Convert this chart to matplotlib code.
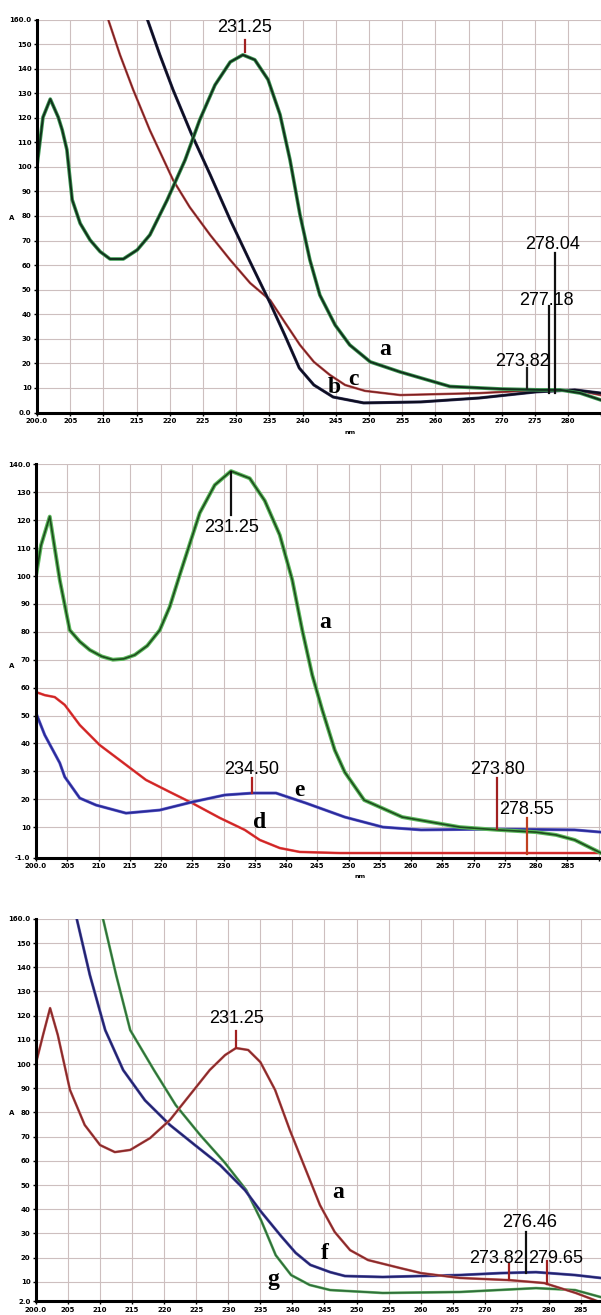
import matplotlib
matplotlib.use('Agg')
import matplotlib.pyplot as plt
import matplotlib.patheffects as pe

# ---------------- data ----------------
# Panel 1 (top): curves a, b, c
p1_a_nm  = [200.0, 200.9, 202.0, 203.2, 203.8, 204.5, 205.3, 206.5, 208.0, 209.5, 211.0, 213.0, 215.1, 217.0,
            219.6, 222.3, 224.5, 226.8, 229.1, 231.0, 232.8, 234.8, 236.6, 238.1, 239.6, 241.1, 242.6, 244.9,
            247.1, 250.2, 254.7, 262.2, 269.7, 275.8, 278.8, 281.8, 284.9]
p1_a_val = [100.4, 120.2, 127.6, 120.2, 115.0, 107.0, 86.6, 77.0, 70.2, 65.5, 62.5, 62.5, 66.2, 72.3,
            86.5, 102.8, 119.1, 133.3, 142.7, 145.6, 143.6, 135.5, 121.3, 102.9, 80.6, 62.1, 47.8, 35.6,
            27.5, 20.6, 16.5, 10.6, 9.6, 9.2, 9.2, 7.9, 5.1]
p1_b_nm  = [215.5, 216.6, 218.5, 220.5, 223.2, 226.1, 229.1, 232.1, 235.1, 237.3, 239.5, 241.7, 244.6,
            249.2, 257.8, 266.6, 275.2, 281.0, 284.9]
p1_b_val = [168.0, 160.2, 145.6, 131.3, 113.8, 96.7, 78.4, 61.3, 44.6, 31.6, 18.1, 11.2, 6.3,
            3.9, 4.3, 5.9, 8.4, 9.2, 7.9]
p1_c_nm  = [209.5, 210.7, 212.5, 214.5, 217.0, 220.5, 223.0, 226.1, 229.1, 232.1, 235.1, 237.3, 239.6,
            241.7, 244.1, 246.4, 249.4, 254.7, 266.7, 275.8, 281.8, 284.9]
p1_c_val = [172.0, 160.2, 145.6, 131.3, 114.9, 94.6, 83.6, 72.2, 62.1, 52.7, 45.8, 36.8, 27.5,
            20.6, 15.3, 11.2, 8.8, 7.1, 7.9, 9.2, 8.8, 7.1]
p1_peaks  = [231.25, 273.82, 277.18, 278.04]
p1_plabel = ['231.25', '273.82', '277.18', '278.04']

# Panel 2 (middle): curves a, d, e
p2_a_nm  = [200.0, 200.8, 202.2, 203.8, 205.4, 207.0, 208.6, 210.5, 212.3, 214.0, 215.8, 217.8, 219.8,
            221.4, 223.0, 224.6, 226.2, 228.6, 231.2, 234.2, 236.6, 239.0, 241.0, 242.6, 244.2, 245.8,
            247.8, 249.4, 252.5, 258.6, 267.8, 273.9, 280.0, 283.2, 286.2, 290.4]
p2_a_val = [100.0, 111.0, 121.3, 98.6, 80.6, 76.5, 73.5, 71.2, 70.0, 70.3, 71.7, 75.0, 80.6,
            89.0, 100.4, 111.5, 122.6, 132.6, 137.6, 135.0, 127.0, 114.7, 98.6, 80.6, 64.5, 52.0,
            37.6, 29.7, 19.7, 13.6, 10.0, 9.0, 8.2, 7.2, 5.4, 0.7]
p2_d_nm  = [200.0, 201.4, 203.0, 204.6, 207.0, 210.2, 213.4, 217.6, 221.4, 225.0, 229.4, 233.4, 235.8,
            239.0, 242.2, 248.6, 266.2, 278.6, 290.4]
p2_d_val = [58.4, 57.3, 56.6, 53.8, 46.6, 39.4, 34.0, 26.9, 22.6, 18.6, 13.3, 9.0, 5.4,
            2.5, 1.1, 0.7, 0.7, 0.7, 0.7]
p2_e_nm  = [200.0, 201.4, 203.8, 204.6, 207.0, 209.6, 214.4, 219.8, 225.0, 230.2, 234.7, 238.4, 243.2,
            249.4, 255.5, 261.6, 273.9, 286.2, 290.4]
p2_e_val = [50.9, 43.0, 33.0, 28.0, 20.4, 17.9, 15.0, 16.1, 19.0, 21.5, 22.2, 22.2, 18.6,
            13.6, 10.0, 9.0, 9.3, 9.0, 8.2]
p2_peaks  = [231.25, 234.50, 273.80, 278.55]
p2_plabel = ['231.25', '234.50', '273.80', '278.55']

# Panel 3 (bottom): curves a, f, g
p3_a_nm  = [200.0, 201.1, 202.2, 203.4, 205.3, 207.6, 210.0, 212.3, 214.7, 217.8, 220.9, 224.0, 227.1,
            229.5, 231.2, 233.1, 235.0, 237.3, 239.6, 242.1, 244.3, 246.6, 249.0, 251.8, 256.8, 260.1,
            266.1, 273.9, 279.3, 284.2, 287.1, 289.0]
p3_a_val = [100.4, 112.0, 123.1, 112.0, 89.3, 74.8, 66.5, 63.6, 64.5, 69.4, 76.9, 87.2, 97.5,
            103.7, 106.6, 105.8, 100.8, 89.3, 72.7, 56.2, 41.7, 30.6, 23.1, 19.0, 15.7, 13.6,
            11.6, 10.7, 9.5, 5.4, 2.5, 0.5]
p3_f_nm  = [205.5, 206.4, 208.4, 210.8, 213.6, 217.0, 220.9, 224.8, 228.7, 232.6, 235.1, 238.2, 240.5,
            242.8, 245.9, 248.2, 254.1, 259.9, 266.1, 272.4, 278.0, 284.1, 288.1]
p3_f_val = [168.0, 159.5, 136.8, 114.0, 97.5, 85.0, 74.8, 66.5, 58.3, 47.9, 39.0, 29.0, 22.0,
            17.0, 14.0, 12.4, 12.0, 12.4, 12.8, 13.6, 14.0, 12.8, 11.6]
p3_g_nm  = [209.5, 210.5, 212.5, 214.7, 218.4, 221.8, 225.6, 229.5, 232.8, 235.1, 237.4, 239.8, 242.7,
            245.9, 254.1, 266.1, 278.0, 284.1, 288.1]
p3_g_val = [168.0, 159.5, 136.8, 114.0, 97.5, 83.0, 70.7, 59.1, 47.9, 35.5, 21.0, 12.8, 8.7,
            6.6, 5.4, 5.8, 7.4, 6.6, 3.7]
p3_peaks  = [231.25, 273.82, 276.46, 279.65]
p3_plabel = ['231.25', '273.82', '276.46', '279.65']

x_ticks = list(range(200, 295, 5))
x_ticklabels = ['200.0'] + [str(v) for v in x_ticks[1:]]

# ---------------- figure ----------------
W, H = 601, 1315
fig = plt.figure(figsize=(W / 100, H / 100), dpi=100)

NUMFONT = ['Liberation Sans', 'DejaVu Sans']
LETFONT = ['Liberation Serif', 'DejaVu Serif']


def make_ax(left_px, top_px, bottom_px, px_per_nm, xmax, ylim, yticks, yticklabels):
    width_px = (xmax - 200) * px_per_nm
    ax = fig.add_axes([left_px / W, 1 - bottom_px / H, width_px / W, (bottom_px - top_px) / H])
    ax.set_xlim(200, xmax)
    ax.set_ylim(*ylim)
    ax.set_xticks(x_ticks)
    # only label ticks whose text fits inside the picture
    labs = []
    for v, s in zip(x_ticks, x_ticklabels):
        px = left_px + (v - 200) * px_per_nm
        labs.append(s if px + 9 <= W else '')
    ax.set_xticklabels(labs)
    ax.set_yticks(yticks)
    ax.set_yticklabels(yticklabels)
    for s in ['top', 'right']:
        ax.spines[s].set_visible(False)
    for s in ['left', 'bottom']:
        ax.spines[s].set_linewidth(2.2)
        ax.spines[s].set_color('black')
        ax.spines[s].set_zorder(5)
    ax.tick_params(axis='both', length=2, width=1, direction='out', labelsize=5, pad=2)
    for t in ax.get_xticklabels() + ax.get_yticklabels():
        t.set_fontweight('bold')
    ax.grid(True, color='#cdbfbf', linewidth=0.8)
    ax.set_axisbelow(True)
    ax.set_facecolor('white')
    return ax


def outlined(ax, x, y, core, halo, lw=1.3, halo_lw=2.6):
    ax.plot(x, y, color=core, linewidth=lw, solid_joinstyle='round', zorder=3,
            path_effects=[pe.Stroke(linewidth=halo_lw, foreground=halo), pe.Normal()])


def peak_mark(ax, x, y0, y1, color, label, lx, ly, ha='center'):
    ax.plot([x, x], [y0, y1], color=color, linewidth=1.6, zorder=4)
    ax.text(lx, ly, label, ha=ha, va='center', fontsize=13, family=NUMFONT, color='black', zorder=6)


def letter(ax, x, y, s):
    ax.text(x, y, s, ha='center', va='center', fontsize=17, fontweight='bold', family=LETFONT,
            color='black', zorder=6)


# ----- Panel 1 -----
yt1 = [0] + list(range(10, 160, 10)) + [160]
yl1 = ['0.0'] + [str(v) for v in range(10, 160, 10)] + ['160.0']
ax1 = make_ax(37, 19.5, 412.5, 6.64, 290, (0, 160), yt1, yl1)
outlined(ax1, p1_c_nm, p1_c_val, '#7a1f1f', '#c06060', lw=1.0, halo_lw=1.8)
outlined(ax1, p1_b_nm, p1_b_val, '#0d0d20', '#3a3a60', lw=1.5, halo_lw=2.2)
outlined(ax1, p1_a_nm, p1_a_val, '#12301c', '#3f9a55', lw=1.4, halo_lw=2.6)
peak_mark(ax1, p1_peaks[0], 146.8, 151.7, '#a02020', p1_plabel[0], p1_peaks[0], 156.6)
peak_mark(ax1, p1_peaks[1], 10.0, 18.1, '#202020', p1_plabel[1], p1_peaks[1] - 0.7, 20.8)
peak_mark(ax1, p1_peaks[2], 7.9, 43.4, '#101010', p1_plabel[2], p1_peaks[2] - 0.5, 45.8)
peak_mark(ax1, p1_peaks[3], 7.9, 65.0, '#101010', p1_plabel[3], p1_peaks[3] - 0.4, 68.4)
letter(ax1, 252.5, 25.5, 'a')
letter(ax1, 244.8, 10.0, 'b')
letter(ax1, 247.7, 13.5, 'c')
fig.text(350 / W, 1 - 433 / H, 'nm', fontsize=4.5, fontweight='bold', ha='center', va='center')
fig.text(12 / W, 1 - 218 / H, 'A', fontsize=5, fontweight='bold', ha='center', va='center')

# ----- Panel 2 -----
yt2 = [-1] + list(range(10, 140, 10)) + [140]
yl2 = ['-1.0'] + [str(v) for v in range(10, 140, 10)] + ['140.0']
ax2 = make_ax(36, 464.4, 857.8, 6.25, 292, (-1, 140), yt2, yl2)
outlined(ax2, p2_d_nm, p2_d_val, '#d02424', '#e86a6a', lw=1.3, halo_lw=1.9)
outlined(ax2, p2_e_nm, p2_e_val, '#2a2a9a', '#6a6ad0', lw=1.4, halo_lw=2.2)
outlined(ax2, p2_a_nm, p2_a_val, '#1d4d1d', '#5cb85c', lw=1.2, halo_lw=2.8)
peak_mark(ax2, p2_peaks[0], 121.9, 137.3, '#101010', p2_plabel[0], p2_peaks[0], 117.4)
peak_mark(ax2, p2_peaks[1], 22.4, 27.5, '#b02020', p2_plabel[1], p2_peaks[1], 30.5)
peak_mark(ax2, p2_peaks[2], 9.3, 27.5, '#a02020', p2_plabel[2], p2_peaks[2], 30.5)
peak_mark(ax2, p2_peaks[3], 0.2, 13.3, '#c04020', p2_plabel[3], p2_peaks[3], 16.3)
letter(ax2, 246.2, 83.5, 'a')
letter(ax2, 242.2, 23.3, 'e')
letter(ax2, 235.8, 11.5, 'd')
fig.text(360 / W, 1 - 877 / H, 'nm', fontsize=4.5, fontweight='bold', ha='center', va='center')
fig.text(12 / W, 1 - 666 / H, 'A', fontsize=5, fontweight='bold', ha='center', va='center')

# ----- Panel 3 -----
yt3 = [2] + list(range(10, 160, 10)) + [160]
yl3 = ['2.0'] + [str(v) for v in range(10, 160, 10)] + ['160.0']
ax3 = make_ax(36, 918.8, 1301.2, 6.41, 290, (2, 160), yt3, yl3)
outlined(ax3, p3_g_nm, p3_g_val, '#2f6f3a', '#78c078', lw=1.3, halo_lw=2.0)
outlined(ax3, p3_f_nm, p3_f_val, '#22226e', '#6a6ab8', lw=1.4, halo_lw=2.1)
outlined(ax3, p3_a_nm, p3_a_val, '#8a2a2a', '#cf7a7a', lw=1.3, halo_lw=1.9)
peak_mark(ax3, p3_peaks[0], 106.8, 113.8, '#a02020', p3_plabel[0], p3_peaks[0], 118.8)
peak_mark(ax3, p3_peaks[1], 10.7, 17.4, '#a02020', p3_plabel[1], p3_peaks[1] - 2.0, 19.6)
peak_mark(ax3, p3_peaks[2], 13.6, 30.6, '#101010', p3_plabel[2], p3_peaks[2] + 0.6, 34.7)
peak_mark(ax3, p3_peaks[3], 9.3, 18.6, '#a02020', p3_plabel[3], p3_peaks[3] + 1.4, 19.6)
letter(ax3, 247.1, 47.0, 'a')
letter(ax3, 245.1, 21.9, 'f')
letter(ax3, 237.0, 10.8, 'g')
fig.text(12 / W, 1 - 1113 / H, 'A', fontsize=5, fontweight='bold', ha='center', va='center')

fig.savefig('out.png', dpi=100, facecolor='white')
